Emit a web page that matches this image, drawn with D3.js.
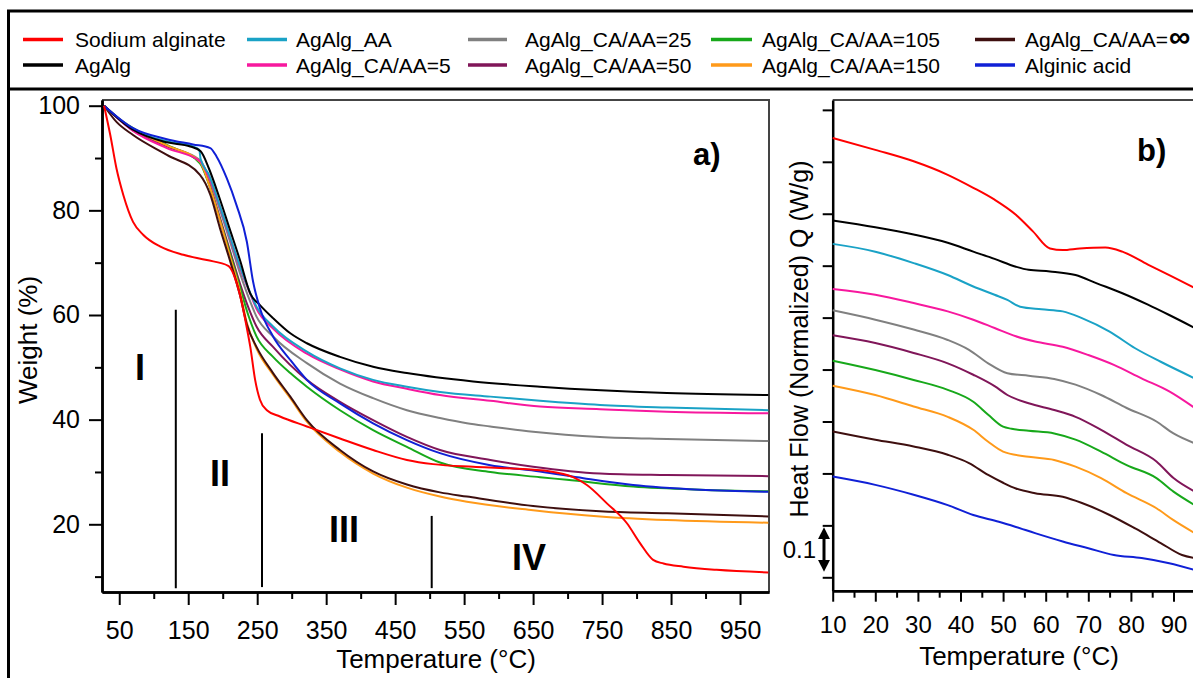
<!DOCTYPE html>
<html>
<head>
<meta charset="utf-8">
<script src="https://cdn.jsdelivr.net/npm/d3@7"></script>
<style>
  body { margin: 0; background: #fff; }
  svg { display: block; font-family: "Liberation Sans", Arial, sans-serif; }
</style>
</head>
<body>
<svg id="chart" width="1193" height="678"></svg>
<script>
// ---- series (same order everywhere) ----
const seriesNames = [
  'Sodium alginate', 'AgAlg', 'AgAlg_AA', 'AgAlg_CA/AA=5', 'AgAlg_CA/AA=25',
  'AgAlg_CA/AA=50', 'AgAlg_CA/AA=105', 'AgAlg_CA/AA=150', 'AgAlg_CA/AA=\u221E', 'Alginic acid'
];
const seriesColors = [
  '#ff0000', '#000000', '#1aa2c6', '#f7189e', '#808080',
  '#801659', '#17a81a', '#ff9a1a', '#3e0f0f', '#1020d6'
];

// ---- a) TGA: [temperature °C, weight %] ----
const tgaSodiumAlginate = [[28,100],[37,94.4],[46,88.0],[56,82.9],[70,77.8],[85,75.3],[109,73.1],[143,71.5],[177,70.5],[208,69.4],[225,63.8],[235,57.5],[240,53.9],[247,47.6],[254,43.8],[264,41.8],[283,40.6],[322,38.7],[370,36.4],[418,34.2],[467,32.3],[505,31.5],[563,31.0],[612,30.7],[675,30.1],[708,29.0],[728,27.5],[757,24.0],[786,20.2],[805,16.4],[824,13.2],[839,12.5],[868,11.9],[916,11.3],[991,10.8]];
const tgaAgAlg = [[28,100],[70,95.4],[119,93.0],[153,92.2],[168,91.3],[180,88],[195,82.5],[210,76.5],[225,70.5],[240,64.1],[254,61.9],[273,59.4],[298,56.5],[322,54.6],[370,52.0],[418,50.1],[467,48.9],[563,47.3],[660,46.3],[844,45.1],[991,44.7]];
const tgaAgAlgAA = [[28,100],[70,95.5],[119,93.2],[155,92.3],[166,91.6],[168,89.8],[180,86.8],[195,81.2],[210,75.2],[225,69.3],[240,64.2],[249,61.6],[273,57.8],[322,53.0],[370,49.8],[418,47.6],[467,46.3],[515,45.3],[588,44.4],[660,43.6],[747,42.8],[844,42.3],[991,41.8]];
const tgaCA5 = [[28,100],[70,95.2],[119,91.9],[167,89.4],[180,86.3],[195,81],[210,75],[225,69],[240,64],[249,61.2],[273,57.4],[322,52.6],[370,49.6],[418,47.3],[467,45.9],[515,44.7],[588,43.6],[660,42.5],[747,42.0],[844,41.5],[991,41.2]];
const tgaCA25 = [[28,100],[70,95.3],[119,92.3],[167,89.6],[180,86.2],[195,80.5],[210,74.3],[225,68],[240,62.5],[249,59.7],[273,55.9],[322,50.8],[370,46.9],[418,44.1],[467,41.8],[515,40.3],[554,39.3],[588,38.7],[650,37.7],[747,36.7],[844,36.3],[991,35.9]];
const tgaCA50 = [[28,100],[70,95.3],[119,92.3],[167,89.2],[180,85.2],[195,79],[210,72.5],[225,66],[237,61.5],[249,57.8],[273,53.9],[322,47.6],[370,43.4],[418,39.9],[467,36.7],[515,34.2],[588,32.3],[650,31.0],[747,29.7],[844,29.4],[991,29.2]];
const tgaCA105 = [[28,100],[46,97.9],[70,95.7],[119,92.5],[167,89.0],[180,85],[195,78.6],[210,72],[225,65.3],[237,60],[249,55.9],[273,52.0],[298,48.9],[322,46.3],[370,41.8],[418,38.0],[467,34.8],[515,31.8],[588,30.0],[660,29.0],[699,28.5],[795,27.2],[892,26.6],[991,26.3]];
const tgaCA150 = [[28,100],[46,97.9],[70,95.6],[119,92.4],[167,89.3],[180,85],[195,78.5],[210,71.5],[225,64.5],[235,58.5],[249,53.6],[273,48.6],[298,44.1],[322,39.6],[370,33.8],[418,29.7],[467,27.0],[515,25.3],[554,24.3],[650,22.7],[747,21.5],[844,20.8],[991,20.3]];
const tgaCAinf = [[28,100],[46,96.9],[70,94.4],[119,90.6],[167,86.8],[182,83.0],[196,76.6],[211,70.2],[225,63.8],[235,58.2],[249,53.9],[273,48.9],[298,44.4],[322,39.9],[370,34.2],[418,30.1],[467,27.6],[515,26.1],[554,25.3],[650,23.5],[747,22.5],[844,22.1],[991,21.5]];
const tgaAlginicAcid = [[28,100],[70,95.7],[119,93.6],[157,92.6],[182,91.9],[191,90.3],[206,86.1],[220,81.0],[235,74.0],[244,66.4],[254,61.3],[273,55.9],[298,51.4],[322,47.6],[370,43.1],[418,39.3],[467,36.1],[515,33.6],[588,31.3],[660,30.1],[723,28.8],[795,27.5],[892,26.6],[991,26.2]];
const tgaSeries = [tgaSodiumAlginate, tgaAgAlg, tgaAgAlgAA, tgaCA5, tgaCA25, tgaCA50, tgaCA105, tgaCA150, tgaCAinf, tgaAlginicAcid];

const tgaXTicks = [50, 150, 250, 350, 450, 550, 650, 750, 850, 950];
const tgaXMinor = [100, 200, 300, 400, 500, 600, 700, 800, 900];
const tgaYTicks = [20, 40, 60, 80, 100];
const tgaYMinor = [10, 30, 50, 70, 90];

// stage annotations
const stageLabels = ['I', 'II', 'III', 'IV'];
const stageLabelT = [80, 196, 376, 644];
const stageLabelW = [50.1, 29.8, 19.1, 13.7];
const stageLineT = [132, 257, 503];
const stageLineTop = [61, 37.4, 21.6];
const stageLineBottom = [7.8, 8.0, 7.8];

// ---- b) DSC: [temperature °C, heat flow (stacked, tick units)] ----
const dscSodiumAlginate = [[10,9.46],[20,9.23],[29,9.01],[37,8.75],[43,8.50],[48,8.27],[53,7.98],[57,7.66],[61,7.33],[64,7.30],[68,7.33],[74,7.35],[78,7.27],[84,7.02],[89,6.82],[95,6.57]];
const dscAgAlg = [[10,7.87],[20,7.74],[29,7.60],[37,7.44],[43,7.27],[48,7.13],[53,6.98],[56,6.92],[61,6.89],[67,6.82],[72,6.66],[78,6.47],[84,6.25],[89,6.05],[95,5.80]];
const dscAgAlgAA = [[10,7.42],[20,7.27],[29,7.05],[37,6.82],[43,6.60],[48,6.44],[51,6.34],[54,6.21],[59,6.16],[64,6.12],[68.5,5.99],[75,5.73],[81,5.41],[87,5.15],[95,4.83]];
const dscCA5 = [[10,6.55],[20,6.44],[29,6.28],[37,6.12],[43,5.96],[48,5.80],[53,5.64],[57.5,5.54],[64,5.44],[70,5.28],[76,5.09],[82.5,4.83],[89,4.58],[95,4.26]];
const dscCA25 = [[10,6.14],[20,5.96],[29,5.77],[37,5.57],[42,5.38],[46.5,5.12],[51,4.93],[56,4.88],[62,4.82],[67,4.71],[73,4.51],[79,4.26],[86,4.00],[90,3.77],[95,3.58]];
const dscCA50 = [[10,5.66],[20,5.51],[29,5.32],[37,5.12],[43,4.90],[48,4.68],[51,4.51],[56,4.35],[62,4.22],[67,4.09],[73,3.84],[79,3.55],[86,3.23],[90,2.91],[95,2.65]];
const dscCA105 = [[10,5.17],[20,4.99],[29,4.80],[37,4.61],[43,4.38],[46.5,4.13],[50,3.90],[52,3.86],[56,3.82],[62,3.77],[67,3.65],[73,3.42],[79,3.16],[86,2.91],[90,2.65],[95,2.39]];
const dscCA150 = [[10,4.69],[20,4.51],[29,4.29],[37,4.09],[43,3.84],[46.5,3.61],[50,3.42],[56,3.32],[62,3.26],[67,3.13],[73,2.91],[79,2.62],[86,2.33],[90,2.10],[95,1.85]];
const dscCAinf = [[10,3.81],[20,3.65],[29,3.52],[37,3.36],[42,3.20],[46.5,2.97],[50,2.82],[53,2.71],[57.5,2.62],[64,2.55],[68.5,2.43],[75,2.20],[81,1.94],[87,1.66],[92,1.43],[95,1.37]];
const dscAlginicAcid = [[10,2.94],[20,2.78],[29,2.59],[37,2.39],[43,2.20],[49,2.07],[53,1.97],[57.5,1.85],[64,1.69],[70,1.56],[76,1.43],[82.5,1.37],[89,1.27],[95,1.14]];
const dscSeries = [dscSodiumAlginate, dscAgAlg, dscAgAlgAA, dscCA5, dscCA25, dscCA50, dscCA105, dscCA150, dscCAinf, dscAlginicAcid];

const dscXTicks = [10, 20, 30, 40, 50, 60, 70, 80, 90];
const dscXMinor = [15, 25, 35, 45, 55, 65, 75, 85, 95];
const dscYTicks = [1, 2, 3, 4, 5, 6, 7, 8, 9, 10];
const scaleBar = [1.22, 1.85]; // = 0.1 W/g
const scaleBarLabel = '0.1';

// legend layout: 5 columns, 2 rows
const legendCols = [
  { x1: 23, x2: 63, tx: 75 },
  { x1: 247, x2: 287, tx: 296 },
  { x1: 468, x2: 507, tx: 525 },
  { x1: 711, x2: 752, tx: 762 },
  { x1: 975, x2: 1015, tx: 1025 },
];

const svg = d3.select('#chart');

// outer frame + legend divider
svg.append('rect')
  .attr('x', 8.5).attr('y', 11)
  .attr('width', 1300).attr('height', 800)
  .attr('fill', 'none').attr('stroke', '#000').attr('stroke-width', 3);
svg.append('line')
  .attr('x1', 8).attr('x2', 1300).attr('y1', 89).attr('y2', 89)
  .attr('stroke', '#000').attr('stroke-width', 3);

// legend
const legend = svg.append('g').attr('class', 'legend');
seriesNames.forEach((name, i) => {
  const col = legendCols[Math.floor(i / 2)];
  const row = i % 2;
  const ly = 39.5 + row * 25.5;
  legend.append('line')
    .attr('x1', col.x1).attr('x2', col.x2).attr('y1', ly).attr('y2', ly)
    .attr('stroke', seriesColors[i]).attr('stroke-width', 3.5);
  const t = legend.append('text')
    .attr('x', col.tx).attr('y', ly + 7.5)
    .attr('font-size', 21).attr('fill', '#000');
  // the infinity sign is set larger in the original
  const parts = name.split('\u221E');
  t.append('tspan').text(parts[0]);
  if (parts.length > 1) {
    t.append('tspan').attr('font-size', 30).attr('font-weight', 'bold').attr('dx', 1).text('\u221E');
  }
});

// ================= panel a =================
const xA = d3.scaleLinear().domain([25, 992]).range([102, 769]);
const yA = d3.scaleLinear().domain([7.06, 101.09]).range([592, 100]);

const gA = svg.append('g');

// top / right frame
gA.append('path')
  .attr('d', `M${xA.range()[0]},${yA.range()[1]}H${xA.range()[1]}V${yA.range()[0]}`)
  .attr('fill', 'none').attr('stroke', '#444').attr('stroke-width', 2);

gA.append('g')
  .attr('transform', `translate(0,${yA.range()[0]})`)
  .call(d3.axisBottom(xA).tickValues(tgaXTicks).tickSize(13).tickSizeOuter(0).tickPadding(16));
gA.append('g')
  .attr('transform', `translate(0,${yA.range()[0]})`)
  .call(d3.axisBottom(xA).tickValues(tgaXMinor).tickSize(7).tickSizeOuter(0).tickFormat(''));
gA.append('g')
  .attr('transform', `translate(${xA.range()[0]},0)`)
  .call(d3.axisLeft(yA).tickValues(tgaYTicks).tickSize(13).tickSizeOuter(0).tickPadding(9));
gA.append('g')
  .attr('transform', `translate(${xA.range()[0]},0)`)
  .call(d3.axisLeft(yA).tickValues(tgaYMinor).tickSize(7).tickSizeOuter(0).tickFormat(''));

gA.selectAll('.domain').attr('stroke', '#000').attr('stroke-width', 2.5);
gA.selectAll('.tick line').attr('stroke', '#000').attr('stroke-width', 2);
gA.selectAll('.tick text').attr('font-size', 25).attr('fill', '#000')
  .attr('font-family', '"Liberation Sans", Arial, sans-serif');

// stage separators
stageLineT.forEach((t, i) => {
  gA.append('line')
    .attr('x1', xA(t)).attr('x2', xA(t))
    .attr('y1', yA(stageLineTop[i])).attr('y2', yA(stageLineBottom[i]))
    .attr('stroke', '#000').attr('stroke-width', 2);
});
stageLabels.forEach((s, i) => {
  gA.append('text')
    .attr('x', xA(stageLabelT[i])).attr('y', yA(stageLabelW[i]))
    .attr('dy', '0.36em')
    .attr('text-anchor', 'middle')
    .attr('font-size', 36).attr('font-weight', 'bold')
    .text(s);
});

// curves (sodium alginate drawn last)
const lineA = d3.line()
  .x(d => xA(d[0]))
  .y(d => yA(d[1]))
  .curve(d3.curveMonotoneX);
const orderA = [4, 5, 6, 7, 8, 3, 2, 1, 9, 0];
orderA.forEach(i => {
  gA.append('path')
    .datum(tgaSeries[i])
    .attr('d', lineA)
    .attr('fill', 'none')
    .attr('stroke', seriesColors[i])
    .attr('stroke-width', 2);
});

gA.append('text')
  .attr('x', 693).attr('y', 165)
  .attr('font-size', 31).attr('font-weight', 'bold')
  .text('a)');

gA.append('text')
  .attr('transform', 'translate(37,340) rotate(-90)')
  .attr('text-anchor', 'middle')
  .attr('font-size', 26)
  .text('Weight (%)');
gA.append('text')
  .attr('x', 436).attr('y', 668)
  .attr('text-anchor', 'middle')
  .attr('font-size', 26)
  .text('Temperature (°C)');

// ================= panel b =================
const xB = d3.scaleLinear().domain([10, 100]).range([832.7, 1216.1]);
const yB = d3.scaleLinear().domain([0.742, 10.19]).range([590.7, 100]);

const gB = svg.append('g');

gB.append('line')
  .attr('x1', xB.range()[0]).attr('x2', xB.range()[1])
  .attr('y1', yB.range()[1]).attr('y2', yB.range()[1])
  .attr('stroke', '#444').attr('stroke-width', 2);

gB.append('g')
  .attr('transform', `translate(0,${yB.range()[0]})`)
  .call(d3.axisBottom(xB).tickValues(dscXTicks).tickSize(11).tickSizeOuter(0).tickPadding(14));
gB.append('g')
  .attr('transform', `translate(0,${yB.range()[0]})`)
  .call(d3.axisBottom(xB).tickValues(dscXMinor).tickSize(7).tickSizeOuter(0).tickFormat(''));
gB.append('g')
  .attr('transform', `translate(${xB.range()[0]},0)`)
  .call(d3.axisLeft(yB).tickValues(dscYTicks).tickSize(10).tickSizeOuter(0).tickFormat(''));

gB.selectAll('.domain').attr('stroke', '#000').attr('stroke-width', 2.5);
gB.selectAll('.tick line').attr('stroke', '#000').attr('stroke-width', 2);
gB.selectAll('.tick text').attr('font-size', 24).attr('fill', '#000')
  .attr('font-family', '"Liberation Sans", Arial, sans-serif');

const lineB = d3.line()
  .x(d => xB(d[0]))
  .y(d => yB(d[1]))
  .curve(d3.curveMonotoneX);
dscSeries.forEach((s, i) => {
  gB.append('path')
    .datum(s)
    .attr('d', lineB)
    .attr('fill', 'none')
    .attr('stroke', seriesColors[i])
    .attr('stroke-width', 2);
});

// 0.1 W/g scale bar
const defs = svg.append('defs');
['start', 'end'].forEach(k => {
  defs.append('marker')
    .attr('id', 'arrow-' + k)
    .attr('viewBox', '0 0 10 10')
    .attr('refX', 5).attr('refY', 5)
    .attr('markerWidth', 4).attr('markerHeight', 4)
    .attr('orient', k === 'start' ? 'auto-start-reverse' : 'auto')
    .append('path').attr('d', 'M0,0L10,5L0,10z').attr('fill', '#000');
});
gB.append('line')
  .attr('x1', 824).attr('x2', 824)
  .attr('y1', yB(scaleBar[0])).attr('y2', yB(scaleBar[1]))
  .attr('stroke', '#000').attr('stroke-width', 3)
  .attr('marker-start', 'url(#arrow-start)')
  .attr('marker-end', 'url(#arrow-end)');
gB.append('text')
  .attr('x', 816).attr('y', yB(d3.mean(scaleBar)))
  .attr('dy', '0.35em')
  .attr('text-anchor', 'end')
  .attr('font-size', 24)
  .text(scaleBarLabel);

gB.append('text')
  .attr('x', 1137).attr('y', 161)
  .attr('font-size', 31).attr('font-weight', 'bold')
  .text('b)');

gB.append('text')
  .attr('transform', 'translate(808,339) rotate(-90)')
  .attr('text-anchor', 'middle')
  .attr('font-size', 25)
  .text('Heat Flow (Normalized) Q (W/g)');
gB.append('text')
  .attr('x', 1019).attr('y', 665)
  .attr('text-anchor', 'middle')
  .attr('font-size', 26)
  .text('Temperature (°C)');
</script>
</body>
</html>
